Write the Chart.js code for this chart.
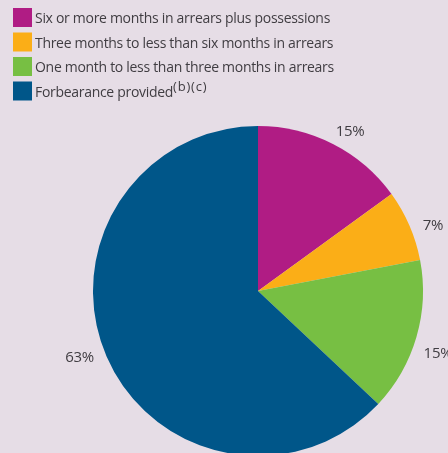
<!DOCTYPE html>
<html>
<head>
<meta charset="utf-8">
<script src="https://cdn.jsdelivr.net/npm/chart.js@4/dist/chart.umd.min.js"></script>
<style>
    html, body { margin: 0; padding: 0; background: #e6dde6; }
    #wrap { width: 448px; height: 453px; overflow: hidden; position: relative; }
    canvas { display: block; }
</style>
</head>
<body>
<div id="wrap"><canvas id="arrearsChart" width="448" height="480"></canvas></div>
<script>
// Arrears categories and their share of the total (per cent)
const categories = [
    'Six or more months in arrears plus possessions',
    'Three months to less than six months in arrears',
    'One month to less than three months in arrears',
    'Forbearance provided'
];
const footnotes = ['', '', '', '(b)(c)'];
const shares = [15, 7, 15, 63];
const sliceColours = ['#b01c84', '#fbae17', '#77bf43', '#005689'];

const textColour = '#403d42';
const fontFamily = '"Open Sans", "Noto Sans", sans-serif';

// Legend drawn as a block of square swatches in the top-left corner
const blockLegend = {
    id: 'blockLegend',
    afterDraw(chart) {
        const ctx = chart.ctx;
        ctx.save();
        ctx.textBaseline = 'alphabetic';
        ctx.textAlign = 'left';
        categories.forEach((label, i) => {
            const top = 8 + i * 24.5;
            ctx.fillStyle = sliceColours[i];
            ctx.fillRect(13, top, 19, 19);
            ctx.fillStyle = textColour;
            ctx.font = '14px ' + fontFamily;
            ctx.letterSpacing = '-0.3px';
            ctx.fillText(label, 35, top + 15);
            if (footnotes[i]) {
                const w = ctx.measureText(label).width;
                ctx.font = '13px ' + fontFamily;
                ctx.letterSpacing = '0.8px';
                ctx.fillText(footnotes[i], 35 + w, top + 9);
            }
        });
        ctx.restore();
    }
};

// Percentage labels placed just outside each slice
const outerLabels = {
    id: 'outerLabels',
    afterDatasetsDraw(chart) {
        const ctx = chart.ctx;
        const meta = chart.getDatasetMeta(0);
        ctx.save();
        ctx.font = '15px ' + fontFamily;
        ctx.letterSpacing = '-0.3px';
        ctx.fillStyle = textColour;
        ctx.textAlign = 'center';
        ctx.textBaseline = 'middle';
        meta.data.forEach((arc, i) => {
            const text = shares[i] + '%';
            const half = ctx.measureText(text).width / 2;
            const mid = (arc.startAngle + arc.endAngle) / 2 + 3 * Math.PI / 180;
            const r = arc.outerRadius + 12 + half * Math.abs(Math.cos(mid));
            ctx.fillText(text, arc.x + Math.cos(mid) * r, arc.y + Math.sin(mid) * r);
        });
        ctx.restore();
    }
};

new Chart(document.getElementById('arrearsChart'), {
    type: 'pie',
    data: {
        labels: categories,
        datasets: [{
            data: shares,
            backgroundColor: sliceColours,
            borderWidth: 0
        }]
    },
    options: {
        responsive: false,
        animation: false,
        layout: { padding: { left: 93, right: 25, top: 126, bottom: 24 } },
        plugins: {
            legend: { display: false },
            tooltip: { enabled: false }
        }
    },
    plugins: [blockLegend, outerLabels]
});
</script>
</body>
</html>
